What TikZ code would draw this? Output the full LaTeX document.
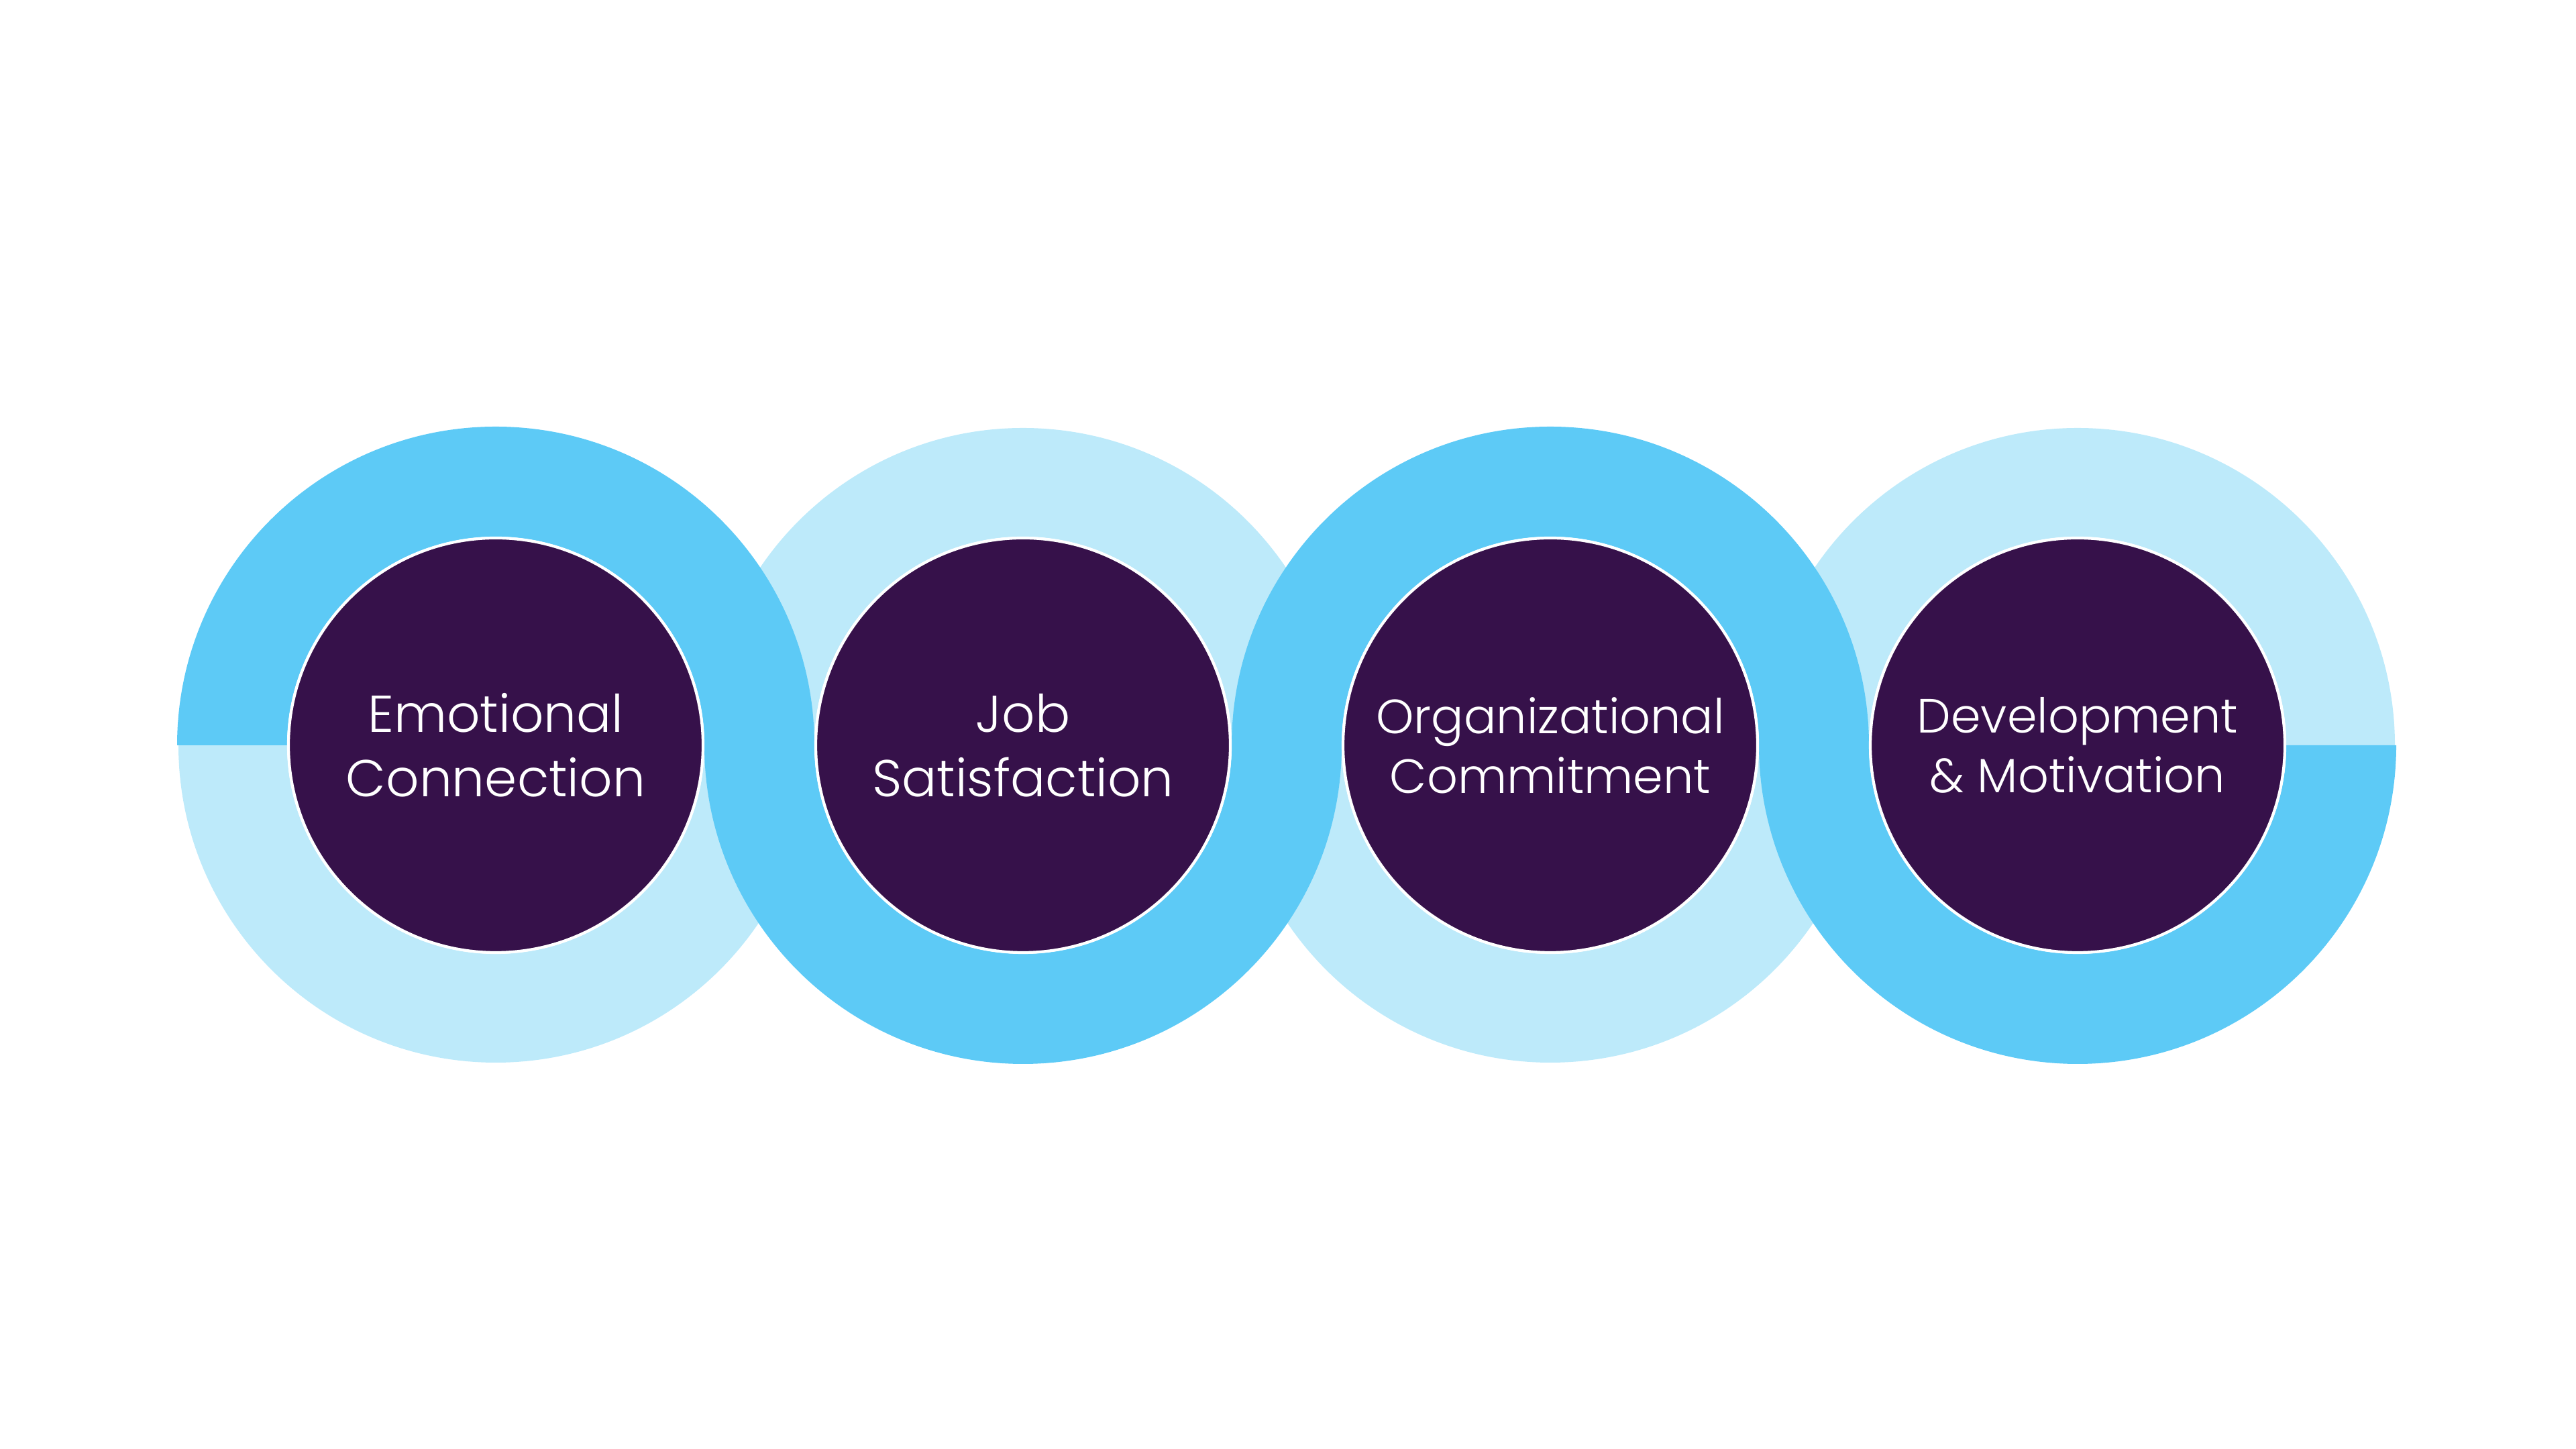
\documentclass[tikz,border=0pt]{standalone}
\usepackage{fontspec}
\setmainfont{Poppins Light}
\usepackage{tikz}

\begin{document}
\begin{tikzpicture}
\useasboundingbox (0,0) rectangle (38.4,21.6);
\definecolor{darkRingColor}{RGB}{93,202,246}
\definecolor{lightRingColor}{RGB}{189,234,250}
\definecolor{hubColor}{RGB}{54,17,74}
\tikzset{hub/.style={circle,fill=hubColor,draw=white,line width=1.2pt,minimum size=6.18cm,inner sep=0pt,text=white,align=center,font=\fontsize{22}{27.3}\selectfont}}
% centres of the four rings
\coordinate (c1) at (7.39,10.49);
\coordinate (c2) at (15.25,10.49);
\coordinate (c3) at (23.11,10.49);
\coordinate (c4) at (30.97,10.49);
% pale halves go below
\foreach \c/\a in {c1/180,c2/0,c3/180,c4/0}
  \fill[lightRingColor] (\c) ++(\a:4.73) arc[start angle=\a,delta angle=180,radius=4.73] -- ++(\a:1.62) arc[start angle=\a+180,delta angle=-180,radius=3.11] -- cycle;
% strong halves make the wave
\foreach \c/\a in {c1/0,c2/180,c3/0,c4/180}
  \fill[darkRingColor] (\c) ++(\a:4.75) arc[start angle=\a,delta angle=180,radius=4.75] -- ++(\a:1.64) arc[start angle=\a+180,delta angle=-180,radius=3.11] -- cycle;
\node[hub] (emo) at (c1) {Emotional\\Connection};
\node[hub] (job) at (c2) {Job\\Satisfaction};
\node[hub,font=\fontsize{20.4}{25.3}\selectfont] (org) at (c3) {Organizational\\Commitment};
\node[hub,font=\fontsize{20.4}{25.3}\selectfont] (dev) at (c4) {Development\\\& Motivation};
\end{tikzpicture}
\end{document}
